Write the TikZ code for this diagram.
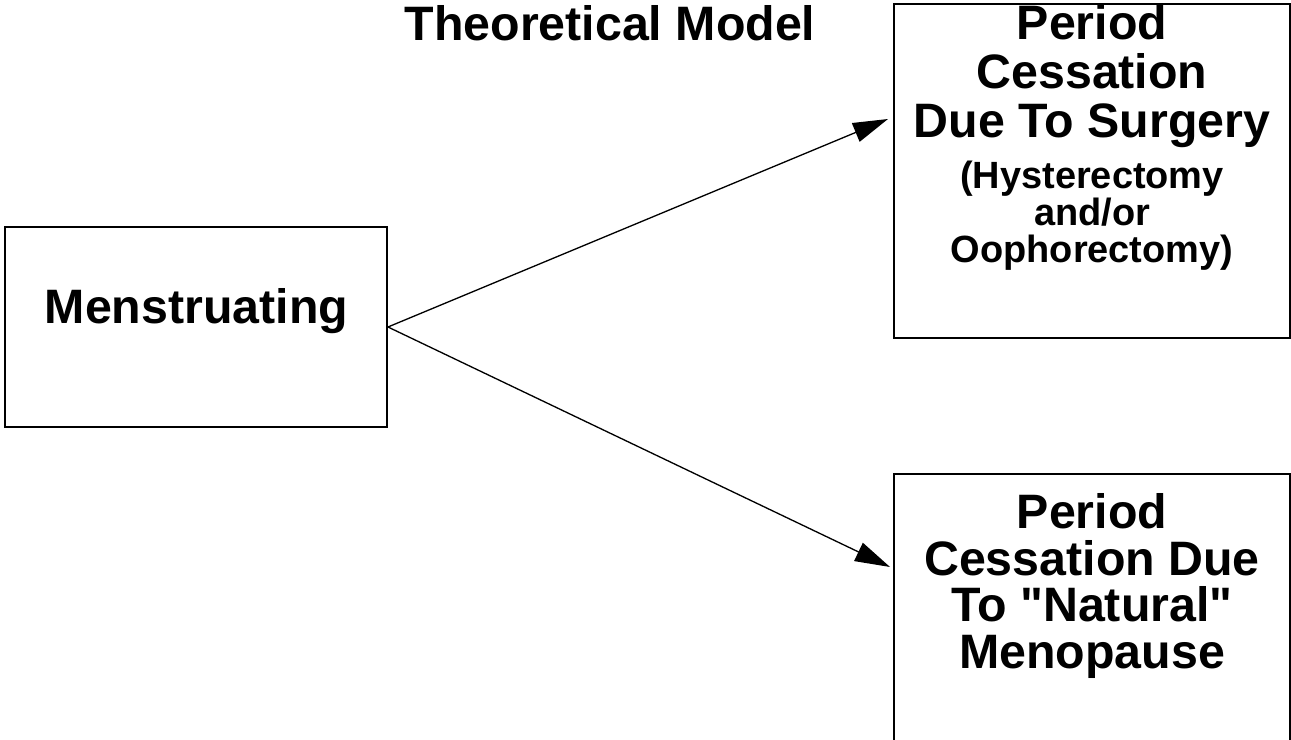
\documentclass[tikz,border=0pt]{standalone}
\usepackage{fontspec}
\setmainfont{Liberation Sans}[Ligatures=TeXOff]
\usepackage{tikz}
\usetikzlibrary{arrows.meta, positioning}

\begin{document}
\begin{tikzpicture}[
    box/.style={draw=black, line width=1.1pt, inner sep=0pt},
    head/.style={font=\bfseries\fontsize{27.5}{27.8}\selectfont, align=center, inner sep=0pt},
    note/.style={font=\bfseries\fontsize{21.6}{21}\selectfont, align=center, inner sep=0pt},
    flow/.style={draw=black, line width=0.75pt, -{Triangle[length=0.7cm, width=0.4cm]}}
  ]
    \useasboundingbox (0,0) rectangle (25.82,14.8);
    \node[head, anchor=base] (title) at (12.2,13.98) {Theoretical Model};
    \node[box, minimum width=7.64cm, minimum height=4.0cm] (menst) at (3.92,8.26) {};
    \node[head, anchor=base] (mensttxt) at (3.93,8.32) {Menstruating};
    \node[box, minimum width=7.92cm, minimum height=6.68cm] (surg) at (21.84,11.38) {};
    \node[head, anchor=north, below=0.02cm of surg.north] (surghead) {Period\\Cessation\\Due To Surgery};
    \node[note, anchor=north, below=0.26cm of surghead] (surgnote) {(Hysterectomy\\and/or\\Oophorectomy)};
    \node[box, minimum width=7.92cm, minimum height=5.52cm] (nat) at (21.84,2.56) {};
    \node[head, anchor=north, below=0.4cm of nat.north, font=\bfseries\fontsize{27.5}{26.6}\selectfont] (nathead) {Period\\Cessation Due\\To "Natural"\\Menopause};
    \draw[flow] (menst.east) -- ([xshift=-0.1cm, yshift=1.04cm]surg.west);
    \draw[flow] (menst.east) -- ([xshift=-0.06cm, yshift=0.9cm]nat.west);
  \end{tikzpicture}
\end{document}
